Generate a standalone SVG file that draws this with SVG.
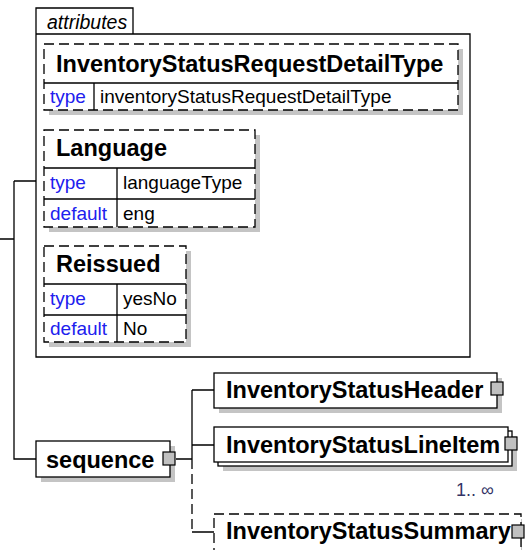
<svg xmlns="http://www.w3.org/2000/svg" width="528" height="550" viewBox="0 0 528 550">
<style>
text{font-family:"Liberation Sans",Arial,sans-serif;fill:#000}
.b{font-weight:bold;font-size:23.5px}
.r{font-size:19px}
.k{fill:#2020ee}
.box{fill:#fff;stroke:#000;stroke-width:1.3}
.dash{stroke-dasharray:10,5}
.sh{fill:#c4c4c4}
.ln{fill:none;stroke:#000;stroke-width:1.3}
.sq{fill:#c0c0c0;stroke:#000;stroke-width:1.2}
</style>
<rect width="528" height="550" fill="#fff"/>
<g id="connectors">
<path class="ln" d="M0 239H14M14 181V459H36M14 181H36"/>
<path class="ln" d="M176 459H192M192 390V459M192 390H214M192 445H214M192 532H214"/>
<path class="ln dash" d="M192 459V532"/>
</g>
<g id="attributes">
<path class="box" d="M36 34V357H470V34H133V8H36V34H133"/>
<text x="47" y="29" style="font-style:italic;font-size:19.5px">attributes</text>
</g>
<g id="attr-InventoryStatusRequestDetailType">
<rect class="sh" x="49" y="49" width="414" height="66"/>
<rect class="box dash" x="44" y="44" width="414" height="66"/>
<path class="ln" d="M44 83H458M94 83V110"/>
<text class="b" x="56" y="72">InventoryStatusRequestDetailType</text>
<text class="r k" x="50" y="103">type</text>
<text class="r" x="100" y="103">inventoryStatusRequestDetailType</text>
</g>
<g id="attr-Language">
<rect class="sh" x="49" y="135" width="211" height="97"/>
<rect class="box dash" x="44" y="130" width="211" height="97"/>
<path class="ln" d="M44 168H255M44 199H255M117 168V227"/>
<text class="b" x="56" y="156">Language</text>
<text class="r k" x="50" y="189">type</text>
<text class="r" x="123" y="189">languageType</text>
<text class="r k" x="50" y="220">default</text>
<text class="r" x="123" y="220">eng</text>
</g>
<g id="attr-Reissued">
<rect class="sh" x="49" y="251" width="142" height="96"/>
<rect class="box dash" x="44" y="246" width="142" height="96"/>
<path class="ln" d="M44 284H186M44 315H186M117 284V342"/>
<text class="b" x="56" y="272">Reissued</text>
<text class="r k" x="50" y="305">type</text>
<text class="r" x="123" y="305">yesNo</text>
<text class="r k" x="50" y="335">default</text>
<text class="r" x="123" y="335">No</text>
</g>
<g id="sequence">
<rect class="sh" x="41" y="446" width="134" height="36"/>
<rect class="box" x="36" y="441" width="134" height="36"/>
<text class="b" x="46" y="468">sequence</text>
<rect class="sq" x="163" y="452" width="12" height="13"/>
</g>
<g id="InventoryStatusHeader">
<rect class="sh" x="219" y="378" width="283" height="35"/>
<rect class="box" x="214" y="373" width="283" height="35"/>
<text class="b" x="226" y="398">InventoryStatusHeader</text>
<rect class="sq" x="491" y="382" width="12" height="13"/>
</g>
<g id="InventoryStatusLineItem">
<rect class="sh" x="223" y="436" width="294" height="35"/>
<rect class="box" x="218" y="431" width="294" height="35"/>
<rect class="box" x="214" y="427" width="294" height="35"/>
<text class="b" x="226" y="453">InventoryStatusLineItem</text>
<rect class="sq" x="505" y="437" width="12" height="13"/>
<text x="456" y="496" style="font-size:18px;fill:#333366">1.. ∞</text>
</g>
<g id="InventoryStatusSummary">
<rect class="sh" x="219" y="519" width="303" height="40"/>
<rect class="box dash" x="214" y="514" width="307" height="45"/>
<text class="b" x="226" y="539">InventoryStatusSummary</text>
<rect class="sq" x="512" y="525" width="12" height="13"/>
</g>
</svg>
